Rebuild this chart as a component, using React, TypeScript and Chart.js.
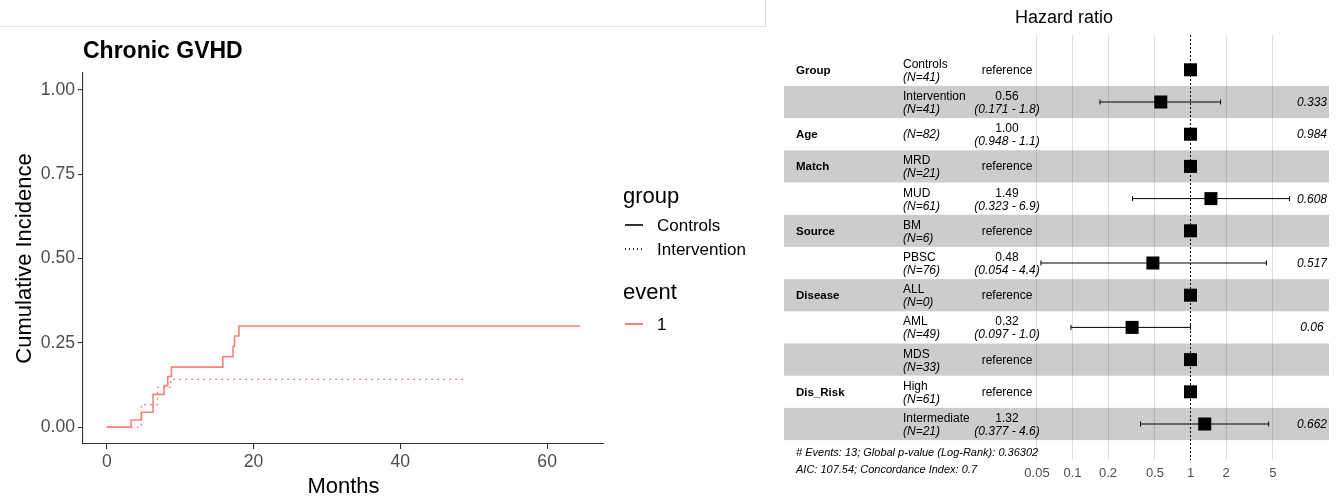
import React, { useEffect, useRef } from "react";
import { Chart, registerables } from "chart.js";

Chart.register(...registerables);

const FONT = "'Liberation Sans', Arial, Helvetica, sans-serif";

// ---------- Left panel: cumulative incidence ----------
const plotTitle = "Chronic GVHD";
const monthTicks = [0, 20, 40, 60];
const incidenceTicks = [0, 0.25, 0.5, 0.75, 1];
const controlsMonths = [0, 3.3, 4.7, 6.3, 7.8, 8.3, 8.8, 15.8, 17.2, 17.4, 18.0, 64.5];
const controlsIncidence = [0, 0.021, 0.044, 0.097, 0.123, 0.15, 0.178, 0.209, 0.24, 0.27, 0.3, 0.3];
const interventionMonths = [0, 4.7, 6.9, 8.7, 49];
const interventionIncidence = [0, 0.067, 0.118, 0.1415, 0.1415];
const groupNames = ["Controls", "Intervention"];
const eventNames = ["1"];

// ---------- Right panel: forest plot ----------
const variableNames = ["Group", "", "Age", "Match", "", "Source", "", "Disease", "", "", "Dis_Risk", ""];
const levelNames = ["Controls", "Intervention", "", "MRD", "MUD", "BM", "PBSC", "ALL", "AML", "MDS", "High", "Intermediate"];
const levelCounts = [41, 41, 82, 21, 61, 6, 76, 0, 49, 33, 61, 21];
const hazardRatios = [1, 0.56, 1.0, 1, 1.49, 1, 0.48, 1, 0.32, 1, 1, 1.32];
const ciLower: (number | null)[] = [null, 0.171, 0.948, null, 0.323, null, 0.054, null, 0.097, null, null, 0.377];
const ciUpper: (number | null)[] = [null, 1.8, 1.1, null, 6.9, null, 4.4, null, 1.0, null, null, 4.6];
const ciLabels = ["", "(0.171 - 1.8)", "(0.948 - 1.1)", "", "(0.323 - 6.9)", "", "(0.054 - 4.4)", "", "(0.097 - 1.0)", "", "", "(0.377 - 4.6)"];
const pValues = ["", "0.333", "0.984", "", "0.608", "", "0.517", "", "0.06", "", "", "0.662"];
const hrTicks = [0.05, 0.1, 0.2, 0.5, 1, 2, 5];
const forestTitle = "Hazard ratio";
const footerLines = [
  "# Events: 13; Global p-value (Log-Rank): 0.36302",
  "AIC: 107.54; Concordance Index: 0.7",
];

// ---------- layout constants ----------
const RED = "rgba(248,118,109,0.9)";
const LEFT_W = 770;
const RIGHT_X = 770;
const RIGHT_W = 573;
const H = 504;
const ROW0 = 69.8;
const ROWH = 32.2;
const F_TOP = 35;
const F_BOTTOM = 460;
const F_LEFT = 784;
const F_RIGHT = 1329;
const ONE_X = 1190.5;
const PX_PER_DECADE = 118;
const TXT = 12;

const rowY = (i: number) => ROW0 + ROWH * i;

type TxtProps = {
  x: number;
  y: number;
  text: string;
  size?: number;
  bold?: boolean;
  italic?: boolean;
  align?: "left" | "center" | "right";
  color?: string;
};

function Txt({ x, y, text, size = TXT, bold, italic, align = "left", color = "#000" }: TxtProps) {
  const tx = align === "left" ? "0" : align === "center" ? "-50%" : "-100%";
  return (
    <div
      style={{
        position: "absolute",
        left: x,
        top: y,
        transform: `translate(${tx}, -50%)`,
        whiteSpace: "nowrap",
        lineHeight: 1,
        fontSize: size,
        fontWeight: bold ? "bold" : "normal",
        fontStyle: italic ? "italic" : "normal",
        color,
        fontFamily: FONT,
      }}
    >
      {text}
    </div>
  );
}

export default function App() {
  const leftRef = useRef<HTMLCanvasElement>(null);
  const rightRef = useRef<HTMLCanvasElement>(null);

  useEffect(() => {
    const controlsData = controlsMonths.map((m, i) => ({ x: m, y: controlsIncidence[i] }));
    const interventionData = interventionMonths.map((m, i) => ({ x: m, y: interventionIncidence[i] }));

    const left = new Chart(leftRef.current!, {
      type: "line",
      data: {
        datasets: [
          {
            label: groupNames[0],
            data: controlsData,
            stepped: "before",
            borderColor: RED,
            borderWidth: 1.6,
            pointRadius: 0,
            fill: false,
          },
          {
            label: groupNames[1],
            data: interventionData,
            stepped: "before",
            borderColor: RED,
            borderWidth: 1.4,
            borderDash: [2, 4],
            pointRadius: 0,
            fill: false,
          },
        ],
      },
      options: {
        responsive: false,
        animation: false,
        events: [],
        layout: { padding: { top: 73, right: LEFT_W - 604, left: 0, bottom: 0 } },
        plugins: { legend: { display: false }, tooltip: { enabled: false } },
        scales: {
          x: {
            type: "linear",
            min: -3.25,
            max: 67.75,
            afterBuildTicks: (s: any) => {
              s.ticks = monthTicks.map((v) => ({ value: v }));
            },
            afterFit: (s: any) => {
              s.height = H - 444;
            },
            grid: { drawOnChartArea: false, drawTicks: true, tickLength: 5, color: "#333333", lineWidth: 1.1 },
            border: { display: true, color: "#333333", width: 1.1 },
            ticks: {
              autoSkip: false,
              maxRotation: 0,
              padding: 3,
              color: "#4d4d4d",
              font: { family: FONT, size: 17.6 },
              callback: (v: any) => String(v),
            },
            title: {
              display: true,
              text: "Months",
              color: "#000",
              font: { family: FONT, size: 22 },
              padding: { top: 0, bottom: 4 },
            },
          },
          y: {
            type: "linear",
            min: -0.05,
            max: 1.05,
            afterBuildTicks: (s: any) => {
              s.ticks = incidenceTicks.map((v) => ({ value: v }));
            },
            afterFit: (s: any) => {
              s.width = 83;
            },
            grid: { drawOnChartArea: false, drawTicks: true, tickLength: 5, color: "#333333", lineWidth: 1.1 },
            border: { display: true, color: "#333333", width: 1.1 },
            ticks: {
              autoSkip: false,
              padding: 3,
              color: "#4d4d4d",
              font: { family: FONT, size: 17.6 },
              callback: (v: any) => Number(v).toFixed(2),
            },
            title: {
              display: true,
              text: "Cumulative Incidence",
              color: "#000",
              font: { family: FONT, size: 22 },
              padding: { top: 12, bottom: 0 },
            },
          },
        },
      },
    });

    // forest plot
    const logMin = -(ONE_X - F_LEFT) / PX_PER_DECADE;
    const logMax = (F_RIGHT - ONE_X) / PX_PER_DECADE;
    const yMin = (F_TOP - ROW0) / ROWH;
    const yMax = (F_BOTTOM - ROW0) / ROWH;

    const bandPlugin = {
      id: "bands",
      beforeDraw: (chart: any) => {
        const { ctx, chartArea, scales } = chart;
        ctx.save();
        ctx.fillStyle = "#cccccc";
        levelNames.forEach((_, i) => {
          if (i % 2 === 1) {
            const y1 = scales.y.getPixelForValue(i - 0.5);
            const y2 = scales.y.getPixelForValue(i + 0.5);
            ctx.fillRect(chartArea.left, y1, chartArea.right - chartArea.left, y2 - y1);
          }
        });
        ctx.restore();
      },
    };

    const ciDatasets: any[] = [];
    hazardRatios.forEach((_, i) => {
      const lo = ciLower[i];
      const hi = ciUpper[i];
      if (lo !== null && hi !== null) {
        ciDatasets.push({
          type: "line",
          data: [
            { x: lo, y: i },
            { x: hi, y: i },
          ],
          borderColor: "#000",
          borderWidth: 1,
          pointStyle: "line",
          pointRotation: 90,
          pointRadius: 2.5,
          pointBorderColor: "#000",
          pointBorderWidth: 1,
          fill: false,
        });
      }
    });

    const right = new Chart(rightRef.current!, {
      type: "scatter",
      data: {
        datasets: [
          {
            type: "scatter",
            data: hazardRatios.map((hr, i) => ({ x: hr, y: i })),
            pointStyle: "rect",
            pointRadius: 9.2,
            backgroundColor: "#000",
            borderWidth: 0,
          },
          ...ciDatasets,
          {
            type: "line",
            data: [
              { x: 1, y: yMin },
              { x: 1, y: yMax },
            ],
            borderColor: "#000",
            borderWidth: 1,
            borderDash: [2, 2],
            pointRadius: 0,
            fill: false,
          },
        ],
      },
      options: {
        responsive: false,
        animation: false,
        events: [],
        layout: {
          padding: { top: F_TOP, left: F_LEFT - RIGHT_X, right: RIGHT_X + RIGHT_W - F_RIGHT, bottom: 0 },
        },
        plugins: { legend: { display: false }, tooltip: { enabled: false } },
        scales: {
          x: {
            type: "logarithmic",
            min: Math.pow(10, logMin),
            max: Math.pow(10, logMax),
            afterBuildTicks: (s: any) => {
              s.ticks = hrTicks.map((v) => ({ value: v }));
            },
            afterFit: (s: any) => {
              s.height = H - F_BOTTOM;
            },
            grid: {
              drawTicks: false,
              lineWidth: 1,
              color: (c: any) => (c.tick && c.tick.value === 1 ? "rgba(0,0,0,0)" : "rgba(0,0,0,0.12)"),
            },
            border: { display: false },
            ticks: {
              autoSkip: false,
              maxRotation: 0,
              padding: 6,
              color: "#4d4d4d",
              font: { family: FONT, size: 13 },
              callback: (v: any) => String(v),
            },
          },
          y: {
            type: "linear",
            display: false,
            reverse: true,
            min: yMin,
            max: yMax,
          },
        },
      },
      plugins: [bandPlugin],
    });

    return () => {
      left.destroy();
      right.destroy();
    };
  }, []);

  const legendLine = (y: number, color: string, dotted: boolean) => (
    <div
      style={{
        position: "absolute",
        left: 625,
        top: y - 0.75,
        width: 18,
        height: 1.5,
        background: dotted
          ? `repeating-linear-gradient(to right, ${color} 0px, ${color} 1.5px, transparent 1.5px, transparent 4px)`
          : color,
      }}
    />
  );

  return (
    <div style={{ position: "absolute", left: 0, top: 0, width: 1343, height: H, fontFamily: FONT, background: "#fff" }}>
      {/* top-left frame remnant */}
      <div
        style={{
          position: "absolute",
          left: 0,
          top: 0,
          width: 765,
          height: 26,
          borderRight: "1px solid #d4d4d4",
          borderBottom: "1px solid #e2e2e2",
        }}
      />
      <canvas
        ref={leftRef}
        width={LEFT_W}
        height={H}
        style={{ position: "absolute", left: 0, top: 0, width: LEFT_W, height: H }}
      />
      <Txt x={83} y={50} text={plotTitle} size={23} bold />

      {/* legend */}
      <Txt x={623} y={196} text="group" size={22} />
      {legendLine(225, "#333333", false)}
      <Txt x={657} y={225} text={groupNames[0]} size={17} />
      {legendLine(249, "#333333", true)}
      <Txt x={657} y={249} text={groupNames[1]} size={17} />
      <Txt x={623} y={292} text="event" size={22} />
      {legendLine(324, RED, false)}
      <Txt x={657} y={324} text={eventNames[0]} size={17} />

      {/* forest */}
      <canvas
        ref={rightRef}
        width={RIGHT_W}
        height={H}
        style={{ position: "absolute", left: RIGHT_X, top: 0, width: RIGHT_W, height: H }}
      />
      <Txt x={1064} y={17} text={forestTitle} size={18} align="center" />
      {levelNames.map((lv, i) => {
        const cy = rowY(i);
        const isRef = ciLower[i] === null;
        return (
          <React.Fragment key={i}>
            {variableNames[i] ? <Txt x={796} y={cy + 1} text={variableNames[i]} bold size={11.5} /> : null}
            {lv ? (
              <>
                <Txt x={903} y={cy - 6} text={lv} />
                <Txt x={903} y={cy + 7} text={`(N=${levelCounts[i]})`} italic />
              </>
            ) : (
              <Txt x={903} y={cy} text={`(N=${levelCounts[i]})`} italic />
            )}
            {isRef ? (
              <Txt x={1007} y={cy} text="reference" align="center" />
            ) : (
              <>
                <Txt x={1007} y={cy - 6} text={hazardRatios[i].toFixed(2)} align="center" />
                <Txt x={1007} y={cy + 7} text={ciLabels[i]} italic align="center" />
              </>
            )}
            {pValues[i] ? <Txt x={1312} y={cy} text={pValues[i]} italic align="center" /> : null}
          </React.Fragment>
        );
      })}
      <Txt x={796} y={452} text={footerLines[0]} italic size={11} />
      <Txt x={796} y={469} text={footerLines[1]} italic size={11} />
    </div>
  );
}
